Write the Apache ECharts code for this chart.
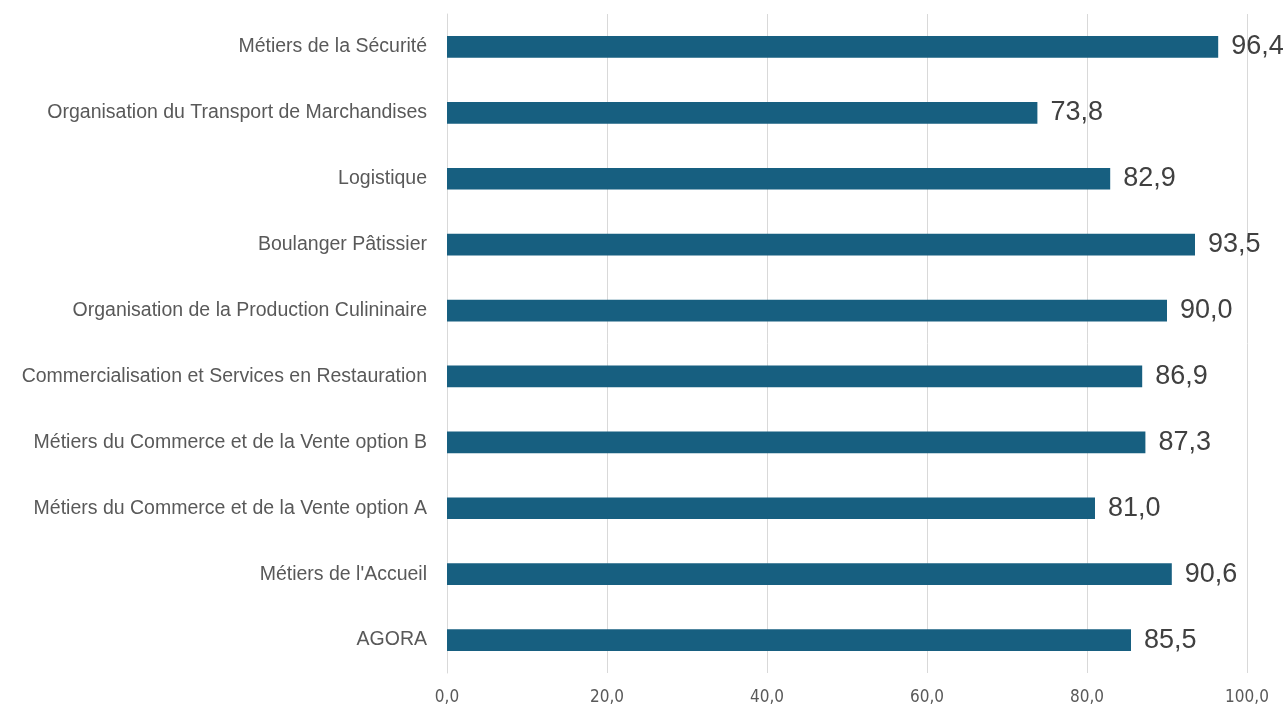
<!DOCTYPE html>
<html><head><meta charset="utf-8">
<script src="https://cdn.jsdelivr.net/npm/echarts@6/dist/echarts.min.js"></script>
<style>html,body{margin:0;padding:0;background:#fff}#c{width:1287px;height:706px}</style>
</head><body><div id="c"></div>
<script>
const categories = ["AGORA","Métiers de l'Accueil","Métiers du Commerce et de la Vente option A","Métiers du Commerce et de la Vente option B","Commercialisation et Services en Restauration","Organisation de la Production Culininaire","Boulanger Pâtissier","Logistique","Organisation du Transport de Marchandises","Métiers de la Sécurité"];
const values = [85.5,90.6,81.0,87.3,86.9,90.0,93.5,82.9,73.8,96.4];
const fmt = v => Number(v).toFixed(1).replace('.', ',');
const chart = echarts.init(document.getElementById('c'), null, {renderer:'canvas'});
chart.setOption({
  animation:false,
  grid:{left:447, top:14, width:800, height:660, containLabel:false},
  xAxis:{type:'value', min:0, max:100, interval:20,
    axisLine:{show:false}, axisTick:{show:false},
    splitLine:{lineStyle:{color:'#d9d9d9', width:1}},
    axisLabel:{formatter:fmt, color:'#595959', fontSize:17, margin:16,
      fontFamily:"'Liberation Sans Narrow','DejaVu Sans Condensed','Liberation Sans',sans-serif"}},
  yAxis:{type:'category', data:categories,
    axisLine:{show:true, lineStyle:{color:'#d9d9d9'}}, axisTick:{show:false},
    axisLabel:{color:'#595959', fontSize:19.5, margin:20, fontFamily:"'Liberation Sans',sans-serif"}},
  series:[{type:'bar', data:values, barWidth:'33%',
    itemStyle:{color:'#175f80'},
    label:{show:true, position:'right', distance:13, formatter:p=>fmt(p.value),
      color:'#404040', fontSize:27, fontFamily:"'Liberation Sans',sans-serif"}}]
});
</script></body></html>
